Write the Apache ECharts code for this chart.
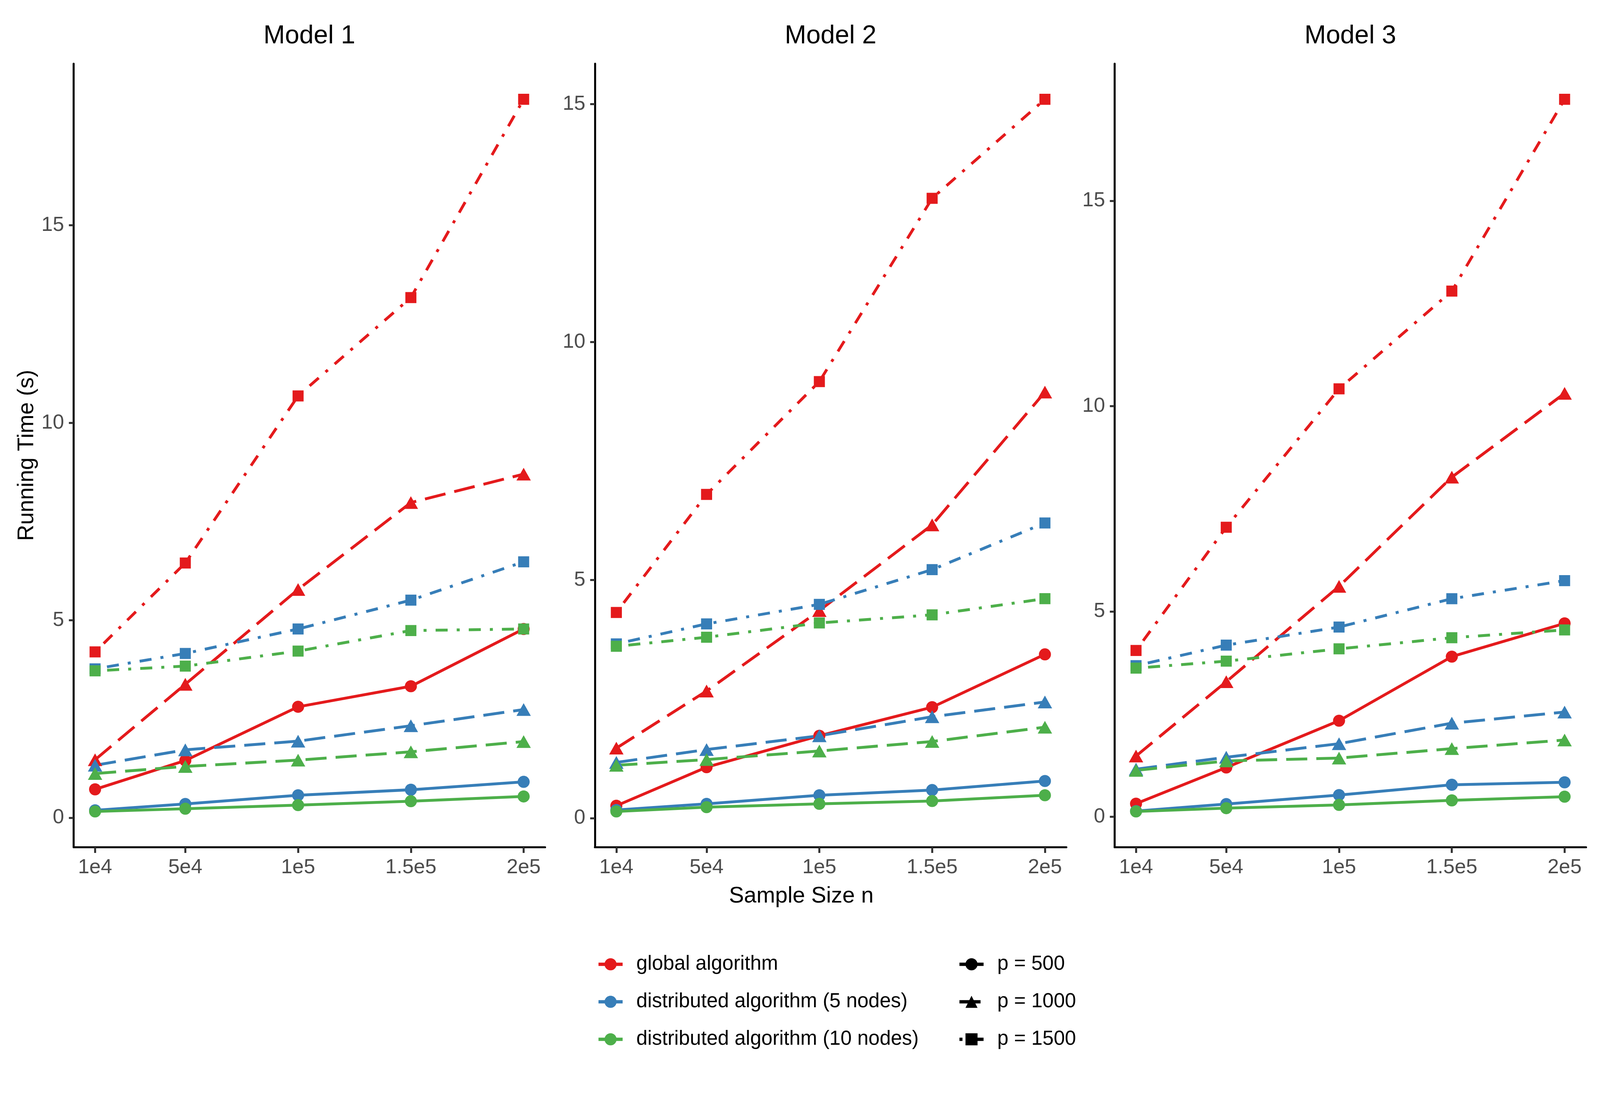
<!DOCTYPE html>
<html>
<head>
<meta charset="utf-8">
<script src="https://cdn.jsdelivr.net/npm/echarts@6/dist/echarts.min.js"></script>
<style>
html,body{margin:0;padding:0;background:#fff;overflow:hidden;}
#chart{position:absolute;left:0;top:0;}
</style>
</head>
<body>
<div id="chart"></div>
<script>
// ---------- data ----------
const sampleSizes = [10000, 50000, 100000, 150000, 200000];
const xTickLabels = ['1e4', '5e4', '1e5', '1.5e5', '2e5'];
const yTicks = [0, 5, 10, 15];
const models = ['Model 1', 'Model 2', 'Model 3'];
const algorithms = ['global algorithm', 'distributed algorithm (5 nodes)', 'distributed algorithm (10 nodes)'];
const pLevels = ['p = 500', 'p = 1000', 'p = 1500'];

// Model 1
const m1GlobalP500  = [0.72, 1.45, 2.81, 3.33, 4.78];
const m1GlobalP1000 = [1.47, 3.38, 5.78, 7.98, 8.70];
const m1GlobalP1500 = [4.20, 6.45, 10.68, 13.17, 18.19];
const m1Dist5P500   = [0.19, 0.35, 0.57, 0.71, 0.91];
const m1Dist5P1000  = [1.33, 1.72, 1.94, 2.33, 2.74];
const m1Dist5P1500  = [3.77, 4.16, 4.78, 5.51, 6.48];
const m1Dist10P500  = [0.16, 0.23, 0.32, 0.42, 0.54];
const m1Dist10P1000 = [1.12, 1.30, 1.46, 1.67, 1.93];
const m1Dist10P1500 = [3.72, 3.84, 4.22, 4.74, 4.78];
// Model 2
const m2GlobalP500  = [0.26, 1.07, 1.73, 2.33, 3.44];
const m2GlobalP1000 = [1.47, 2.67, 4.36, 6.16, 8.95];
const m2GlobalP1500 = [4.32, 6.80, 9.17, 13.02, 15.10];
const m2Dist5P500   = [0.17, 0.30, 0.48, 0.59, 0.78];
const m2Dist5P1000  = [1.17, 1.44, 1.73, 2.13, 2.44];
const m2Dist5P1500  = [3.66, 4.08, 4.49, 5.22, 6.20];
const m2Dist10P500  = [0.14, 0.23, 0.30, 0.36, 0.48];
const m2Dist10P1000 = [1.11, 1.23, 1.41, 1.61, 1.91];
const m2Dist10P1500 = [3.61, 3.80, 4.10, 4.27, 4.61];
// Model 3
const m3GlobalP500  = [0.32, 1.20, 2.34, 3.90, 4.71];
const m3GlobalP1000 = [1.48, 3.29, 5.61, 8.27, 10.31];
const m3GlobalP1500 = [4.05, 7.05, 10.42, 12.80, 17.47];
const m3Dist5P500   = [0.14, 0.31, 0.53, 0.78, 0.84];
const m3Dist5P1000  = [1.16, 1.45, 1.78, 2.28, 2.55];
const m3Dist5P1500  = [3.68, 4.18, 4.62, 5.31, 5.75];
const m3Dist10P500  = [0.13, 0.21, 0.29, 0.40, 0.49];
const m3Dist10P1000 = [1.13, 1.36, 1.43, 1.66, 1.87];
const m3Dist10P1500 = [3.62, 3.79, 4.09, 4.36, 4.55];

// [model][algorithm][p]
const modelData = [
  [[m1GlobalP500, m1GlobalP1000, m1GlobalP1500], [m1Dist5P500, m1Dist5P1000, m1Dist5P1500], [m1Dist10P500, m1Dist10P1000, m1Dist10P1500]],
  [[m2GlobalP500, m2GlobalP1000, m2GlobalP1500], [m2Dist5P500, m2Dist5P1000, m2Dist5P1500], [m2Dist10P500, m2Dist10P1000, m2Dist10P1500]],
  [[m3GlobalP500, m3GlobalP1000, m3GlobalP1500], [m3Dist5P500, m3Dist5P1000, m3Dist5P1500], [m3Dist10P500, m3Dist10P1000, m3Dist10P1500]]
];

// ---------- layout scale (design coordinates are for a 5040 x 2800 page; fit to actual viewport) ----------
const VW = window.innerWidth || 5040, VH = window.innerHeight || 2800;
const SX = VW / 5040, SY = VH / 2800;
const F = (Math.min(SX, SY) + Math.sqrt(SX * SY)) / 2;   // size scale for fonts / strokes / symbols
const sx = v => v * SX, sy = v => v * SY, sf = v => v * F;
const chartEl = document.getElementById('chart');
chartEl.style.width = VW + 'px';
chartEl.style.height = VH + 'px';

// ---------- styles ----------
const FONT = "'Liberation Sans', Arial, sans-serif";
const algColors = ['#E41A1C', '#377EB8', '#4DAF4A'];
const pSymbols = ['circle', 'triangle', 'rect'];
const pSymbolSizes = [sf(36), [sf(43), sf(38)], sf(33)];
const LW = sf(8.5);
const pDash = ['solid', [sf(63), sf(27)], [sf(9), sf(27), sf(36), sf(27)]];
const baselineTop = (baseline, fs) => baseline - 0.86 * fs;

const gridLefts = [232, 1874, 3511];
const gridWidth = 1485;
const gridTop = 163;
const gridBottomY = 2168;

const xMinData = Math.min(...sampleSizes), xMaxData = Math.max(...sampleSizes);
const xPad = (xMaxData - xMinData) * 0.05;

const tickFs = sf(61), titleFs = sf(77), axisTitleFs = sf(67), legendFs = sf(60);

const grids = [], xAxes = [], yAxes = [], series = [], titles = [];

models.forEach((m, mi) => {
  grids.push({left: sx(gridLefts[mi]), top: sy(gridTop), width: sx(gridWidth), height: sy(gridBottomY - gridTop), containLabel: false});
  const all = modelData[mi].flat(2);
  const lo = Math.min(...all), hi = Math.max(...all);
  const pad = (hi - lo) * 0.05;
  xAxes.push({
    type: 'value', gridIndex: mi, min: xMinData - xPad, max: xMaxData + xPad,
    axisLine: {show: true, onZero: false, lineStyle: {color: '#000', width: sf(6)}},
    axisTick: {show: true, length: sy(15), customValues: sampleSizes, lineStyle: {color: '#333', width: sf(6)}},
    axisLabel: {show: true, customValues: sampleSizes, margin: Math.max(2, baselineTop(sy(2240), tickFs) - sy(gridBottomY)),
      fontSize: tickFs, color: '#4D4D4D', fontFamily: FONT,
      formatter: v => xTickLabels[sampleSizes.indexOf(v)]},
    splitLine: {show: false}
  });
  yAxes.push({
    type: 'value', gridIndex: mi, min: lo - pad, max: hi + pad,
    name: mi === 0 ? 'Running Time (s)' : '',
    nameLocation: 'middle', nameGap: sx(112), nameRotate: 90,
    nameTextStyle: {fontSize: axisTitleFs, color: '#000', fontFamily: FONT},
    axisLine: {show: true, onZero: false, lineStyle: {color: '#000', width: sf(6)}},
    axisTick: {show: true, length: sx(15), customValues: yTicks, lineStyle: {color: '#333', width: sf(6)}},
    axisLabel: {show: true, customValues: yTicks, margin: sx(30), fontSize: tickFs, color: '#4D4D4D', fontFamily: FONT},
    splitLine: {show: false}
  });
  titles.push({text: m, left: sx(gridLefts[mi] + gridWidth / 2), top: baselineTop(sy(117), titleFs), textAlign: 'center', padding: 0,
    textStyle: {fontSize: titleFs, fontWeight: 'normal', color: '#000', fontFamily: FONT}});

  algorithms.forEach((a, ai) => {
    pLevels.forEach((p, pi) => {
      const pts = modelData[mi][ai][pi].map((v, k) => [sampleSizes[k], v]);
      series.push({
        type: 'line', name: a + ' / ' + p + ' / ' + m, xAxisIndex: mi, yAxisIndex: mi,
        data: pts, showSymbol: false, symbol: 'none', z: 2, silent: true,
        lineStyle: {color: algColors[ai], width: LW, type: pDash[pi], cap: 'butt'}
      });
      series.push({
        type: 'scatter', name: a + ' / ' + p + ' / ' + m + ' pts', xAxisIndex: mi, yAxisIndex: mi,
        data: pts, symbol: pSymbols[pi], symbolSize: pSymbolSizes[pi], z: 3, silent: true,
        itemStyle: {color: algColors[ai], opacity: 1}
      });
    });
  });
});

// legend carrier series (no data)
algorithms.forEach((a, ai) => {
  series.push({type: 'line', name: a, data: [], xAxisIndex: 0, yAxisIndex: 0, symbol: 'circle',
    itemStyle: {color: algColors[ai]}, lineStyle: {color: algColors[ai], width: sf(10), type: 'solid'}});
});
pLevels.forEach((p, pi) => {
  series.push({type: 'line', name: p, data: [], xAxisIndex: 0, yAxisIndex: 0, symbol: pSymbols[pi],
    itemStyle: {color: '#000'}, lineStyle: {color: '#000', width: sf(10), type: pDash[pi]}});
});

titles.push({text: 'Sample Size n', left: sx(2524), top: baselineTop(sy(2315), axisTitleFs), textAlign: 'center', padding: 0,
  textStyle: {fontSize: axisTitleFs, fontWeight: 'normal', color: '#000', fontFamily: FONT}});

const legendRowH = legendFs;
const legendItemH = sf(45);
const legendGap = Math.max(0, sy(96) - Math.max(legendRowH, legendItemH));
const legendTop = sy(2468) - Math.max(legendRowH, legendItemH) / 2;
const legendText = {fontSize: legendFs, color: '#000', fontFamily: FONT, padding: [0, 0, 0, sx(37)], lineHeight: legendRowH};

const option = {
  animation: false,
  backgroundColor: '#fff',
  title: titles,
  grid: grids,
  xAxis: xAxes,
  yAxis: yAxes,
  legend: [
    {data: algorithms, orient: 'vertical', left: sx(1880), top: legendTop, padding: 0,
      itemWidth: sx(76), itemHeight: legendItemH, itemGap: legendGap,
      selectedMode: false, textStyle: legendText, lineStyle: {width: sf(10)}},
    {data: pLevels, orient: 'vertical', left: sx(3017), top: legendTop, padding: 0,
      itemWidth: sx(76), itemHeight: legendItemH, itemGap: legendGap,
      selectedMode: false, textStyle: legendText, lineStyle: {width: sf(10)}}
  ],
  series: series
};

const chart = echarts.init(chartEl, null, {renderer: 'canvas'});
chart.setOption(option);
</script>
</body>
</html>
